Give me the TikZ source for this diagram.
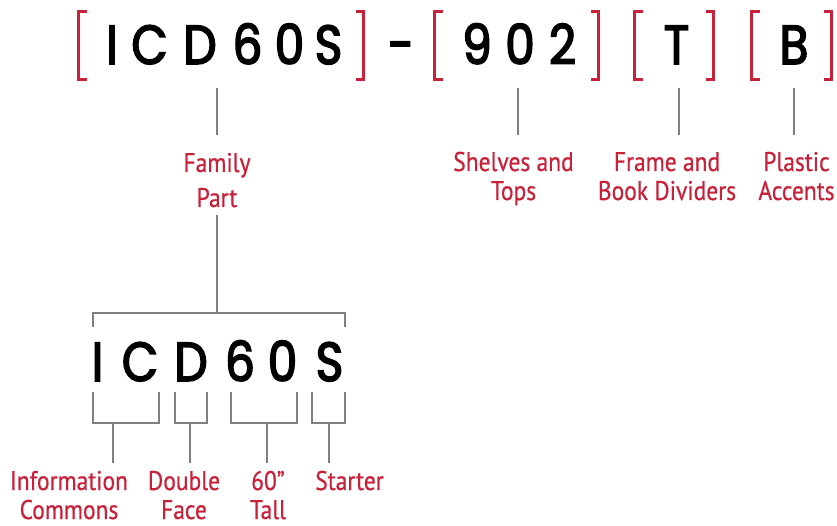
\documentclass[tikz,border=0pt]{standalone}
\usepackage{fontspec}
\newfontfamily\codefont[FakeStretch=0.85, FakeBold=3]{Poppins}
\newfontfamily\labelfont[FakeStretch=0.87, FakeBold=0.6]{PT Sans}
\usetikzlibrary{positioning, calc}
\definecolor{codered}{HTML}{C8213A}
\definecolor{codegray}{HTML}{808080}

\begin{document}
\begin{tikzpicture}[
    x=1pt, y=-1pt,
    letter/.style={font=\codefont\fontsize{55}{55}\selectfont, anchor=base, inner sep=0pt},
    desc/.style={font=\labelfont\fontsize{27}{29}\selectfont, text=codered, align=center, anchor=base, inner sep=0pt},
    lead/.style={draw=codegray, line width=1.5pt},
    brack/.style={draw=codered, line width=3pt},
    lbr/.pic={\draw[brack] (8,-34) -| (0,34) -- (8,34);},
    rbr/.pic={\draw[brack] (-8,-34) -| (0,34) -- (-8,34);},
]
\useasboundingbox (0,0) rectangle (837,526);

% Full part number
\foreach \ch/\xx [count=\i] in {I/112, C/149.5, D/200, 6/247.5, 0/289.5, S/328.5}
    \node[letter] (fam\i) at (\xx,64) {\ch};
\node[letter] (dash) at (401,64) {-};
\foreach \ch/\xx [count=\i] in {9/477, 0/520, 2/562.5}
    \node[letter] (shelf\i) at (\xx,64) {\ch};
\node[letter] (frame) at (676.5,64) {T};
\node[letter] (accent) at (794,64) {B};

% Brackets
\pic at (78.5,45.5) {lbr};
\pic at (363.5,45.5) {rbr};
\pic at (434.5,45.5) {lbr};
\pic at (598.5,45.5) {rbr};
\pic at (634.5,45.5) {lbr};
\pic at (713.5,45.5) {rbr};
\pic at (751.5,45.5) {lbr};
\pic at (831.5,45.5) {rbr};

% Labels for the groups (base = last line)
\node[desc] (family) at (217,207) {Family\\[6pt]Part};
\node[desc] (shelves) at (513.5,200) {Shelves and\\Tops};
\node[desc] (dividers) at (667,200) {Frame and\\Book Dividers};
\node[desc] (plastic) at (796.5,200) {Plastic\\Accents};

\coordinate (fam-a) at (217,88);   \coordinate (fam-b) at (217,135);
\coordinate (shelf-a) at (518,88); \coordinate (shelf-b) at (518,135);
\coordinate (frame-a) at (679,88); \coordinate (frame-b) at (679,135);
\coordinate (acc-a) at (794,88);   \coordinate (acc-b) at (794,135);
\draw[lead] (fam-a) -- (fam-b);
\draw[lead] (shelf-a) -- (shelf-b);
\draw[lead] (frame-a) -- (frame-b);
\draw[lead] (acc-a) -- (acc-b);

% Family part broken down
\coordinate (fam-c) at (217,215);
\coordinate (fam-d) at (217,313);
\draw[lead] (fam-c) -- (fam-d);
\draw[lead] (93,327) -- (93,313) -- (345,313) -- (345,327);

\foreach \ch/\xx [count=\i] in {I/97.5, C/140, D/191, 6/240, 0/282.5, S/329.5}
    \node[letter] (sub\i) at (\xx,381) {\ch};

% Sub brackets
\draw[lead] (93,392) |- (159,423) -- (159,392);
\draw[lead] (175,392) |- (207,423) -- (207,392);
\draw[lead] (231,392) |- (297,423) -- (297,392);
\draw[lead] (312,392) |- (345,423) -- (345,392);

\coordinate (info-a) at (113,423);   \coordinate (info-b) at (113,463);
\coordinate (face-a) at (190,423);   \coordinate (face-b) at (190,463);
\coordinate (tall-a) at (267,423);   \coordinate (tall-b) at (267,463);
\coordinate (start-a) at (329,423);  \coordinate (start-b) at (329,463);
\draw[lead] (info-a) -- (info-b);
\draw[lead] (face-a) -- (face-b);
\draw[lead] (tall-a) -- (tall-b);
\draw[lead] (start-a) -- (start-b);

\node[desc] (info) at (69,519) {Information\\Commons};
\node[desc] (face) at (184,519) {Double\\Face};
\node[desc] (tall) at (268,519) {60”\\Tall};
\node[desc] (starter) at (349.5,490) {Starter};

\end{tikzpicture}
\end{document}
